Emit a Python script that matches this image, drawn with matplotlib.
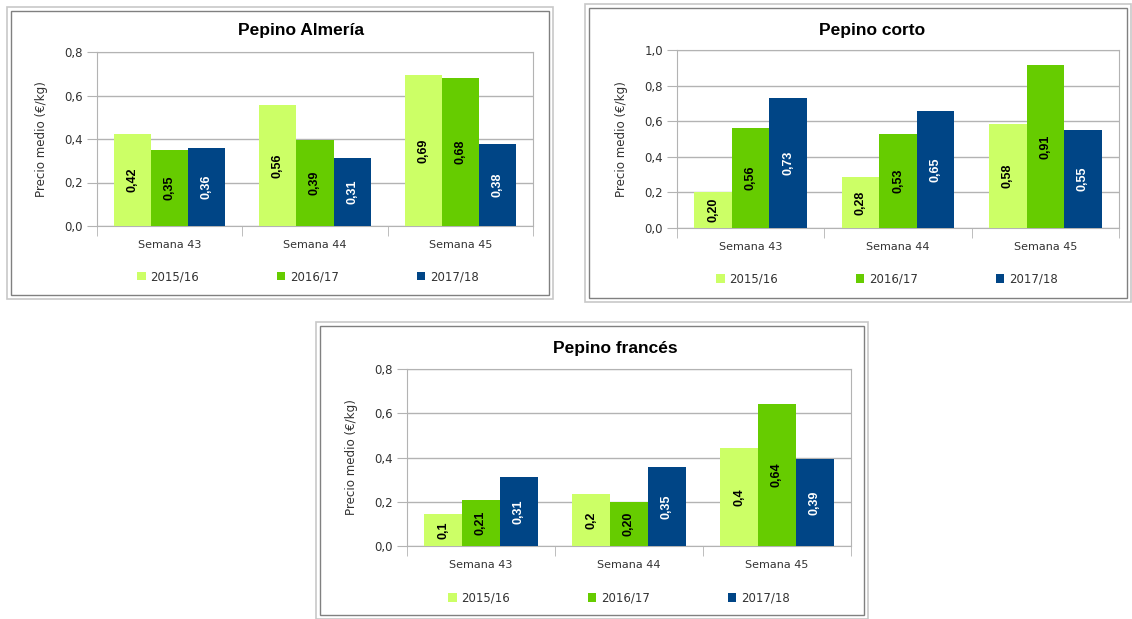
import matplotlib
matplotlib.use("Agg")
import matplotlib.pyplot as plt
from matplotlib.patches import Patch, Rectangle

W, H = 1132, 619

# data
categories = ["Semana 43", "Semana 44", "Semana 45"]
seasons = ["2015/16", "2016/17", "2017/18"]
colors = ["#ccff66", "#66cc00", "#004586"]
label_colors = ["black", "black", "white"]

almeria = [[0.425, 0.555, 0.692],
           [0.349, 0.394, 0.680],
           [0.360, 0.313, 0.377]]
almeria_lbl = [["0,42", "0,56", "0,69"],
               ["0,35", "0,39", "0,68"],
               ["0,36", "0,31", "0,38"]]

corto = [[0.205, 0.285, 0.585],
         [0.562, 0.528, 0.913],
         [0.732, 0.658, 0.551]]
corto_lbl = [["0,20", "0,28", "0,58"],
             ["0,56", "0,53", "0,91"],
             ["0,73", "0,65", "0,55"]]

frances = [[0.144, 0.234, 0.443],
           [0.207, 0.200, 0.643],
           [0.311, 0.358, 0.393]]
frances_lbl = [["0,1", "0,2", "0,4"],
               ["0,21", "0,20", "0,64"],
               ["0,31", "0,35", "0,39"]]

tick_font = "DejaVu Sans"
txt_col = "#333333"
grid_col = "#b3b3b3"


def px_rect(l, t, r, b):
    return [l / W, 1 - b / H, (r - l) / W, (b - t) / H]


def frame(fig, l, t, r, b):
    fig.patches.append(Rectangle((l / W, 1 - b / H), (r - l) / W, (b - t) / H,
                                 transform=fig.transFigure, fill=False,
                                 edgecolor="#c8c8c8", lw=1.2))
    l, t, r, b = l + 4, t + 4, r - 4, b - 4
    fig.patches.append(Rectangle((l / W, 1 - b / H), (r - l) / W, (b - t) / H,
                                 transform=fig.transFigure, fill=False,
                                 edgecolor="#808080", lw=1.0))


def panel(fig, rect, title, title_xy, legend_xy, values, labels, ymax):
    ax = fig.add_axes(px_rect(*rect))
    bw = 0.255
    for i in range(3):
        xs = [c + (i - 1) * bw for c in range(3)]
        bars = ax.bar(xs, values[i], width=bw, color=colors[i], zorder=3)
        for bar, lab in zip(bars, labels[i]):
            ax.text(bar.get_x() + bw / 2, bar.get_height() / 2, lab,
                    rotation=90, ha="center", va="center", fontsize=9,
                    fontweight="bold", family="Liberation Sans",
                    color=label_colors[i], zorder=4)
    ax.set_xlim(-0.5, 2.5)
    ax.set_ylim(0, ymax)
    yt = [round(v * 0.2, 1) for v in range(int(round(ymax / 0.2)) + 1)]
    ax.set_yticks(yt)
    ax.set_yticklabels([("%.1f" % v).replace(".", ",") for v in yt],
                       family=tick_font, fontsize=8.5, color=txt_col)
    ax.set_xticks(range(3))
    ax.set_xticklabels(categories, family=tick_font, fontsize=8, color=txt_col)
    ax.set_xticks([-0.5, 0.5, 1.5, 2.5], minor=True)
    ax.tick_params(axis="x", which="major", length=0, pad=10)
    ax.tick_params(axis="x", which="minor", length=7, color=grid_col)
    ax.tick_params(axis="y", length=7, color=grid_col, pad=3)
    ax.yaxis.grid(True, color=grid_col, lw=1, zorder=0)
    for s in ax.spines.values():
        s.set_color(grid_col)
    ax.set_ylabel("Precio medio (€/kg)", family=tick_font, fontsize=8.6, color=txt_col)
    ax.yaxis.set_label_coords(-49 / (rect[2] - rect[0]), 0.5)

    fig.text(title_xy[0] / W, 1 - title_xy[1] / H, title, ha="center", va="center",
             fontsize=12.5, fontweight="bold", family="Liberation Sans")

    handles = [Patch(facecolor=c) for c in colors]
    fig.legend(handles, seasons, loc="center",
               bbox_to_anchor=(legend_xy[0] / W, 1 - legend_xy[1] / H),
               bbox_transform=fig.transFigure, ncol=3, frameon=False,
               handlelength=0.7, handleheight=0.7, handletextpad=0.4,
               columnspacing=6.6, prop={"family": tick_font, "size": 8.5},
               labelcolor=txt_col)
    return ax


fig = plt.figure(figsize=(W / 100, H / 100), dpi=100)
fig.patch.set_facecolor("white")

frame(fig, 7, 7, 553, 299)
frame(fig, 585, 4, 1131, 302)
frame(fig, 316, 322, 868, 619)

panel(fig, (97, 52, 533, 226), "Pepino Almería", (301, 31), (308, 277),
      almeria, almeria_lbl, 0.8)
panel(fig, (677, 50, 1119, 228), "Pepino corto", (872, 30), (887, 279),
      corto, corto_lbl, 1.0)
panel(fig, (407, 369, 851, 546), "Pepino francés", (615, 349), (619, 598),
      frances, frances_lbl, 0.8)

fig.savefig("out.png", dpi=100)
